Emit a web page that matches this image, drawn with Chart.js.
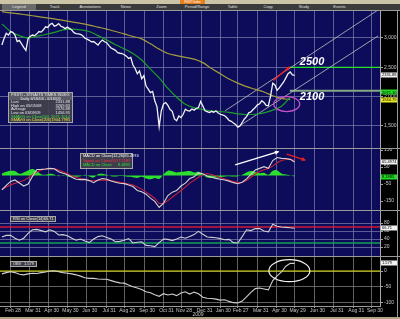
<!DOCTYPE html>
<html>
<head>
<meta charset="utf-8">
<script src="https://cdn.jsdelivr.net/npm/chart.js@4.4.1/dist/chart.umd.min.js"></script>
<style>
  body { margin: 0; width: 400px; height: 319px; background: #aca586; position: relative; overflow: hidden; font-family: "Liberation Sans", Arial, sans-serif; }
  canvas { position: absolute; left: 0; }
  #titlebar { position: absolute; left: 0; top: 0; width: 400px; height: 4px; background: #cbc4a6; }
  #titlebar .tag { position: absolute; left: 180px; top: 0; width: 25px; height: 4px; background: #e8801c; color: #fff; font-size: 3px; line-height: 4px; text-align: center; }
  #menubar { position: absolute; left: 0; top: 4px; width: 400px; height: 6px; background: #3b3b3b; }
  #menubar span { position: absolute; top: 0; width: 34px; text-align: center; color: #e0e0e0; font-size: 4px; line-height: 6px; }
  #menubar span.on { background: #6a6a6a; }
  .legend { position: absolute; background: rgba(66, 66, 78, 0.93); border: 1px solid #a8a8a8; font-size: 4px; line-height: 3.6px; color: #e8e8e8; }
  .legend .row { display: flex; justify-content: space-between; padding: 0 2px; white-space: nowrap; }
  .legend .head { justify-content: center; background: #5a5a66; }
</style>
</head>
<body>
<div id="titlebar"><div class="tag">FSSTI Index</div></div>
<div id="menubar"></div>
<canvas id="priceChart" width="400" height="138" style="top:10px"></canvas>
<canvas id="macdChart" width="400" height="62" style="top:148px"></canvas>
<canvas id="rsiChart" width="400" height="46" style="top:210px"></canvas>
<canvas id="obvChart" width="400" height="61" style="top:256px"></canvas>
<div id="priceLegend" class="legend" style="left:8px; top:92px; width:63px;"></div>
<div id="macdLegend" class="legend" style="left:80px; top:153px; width:51px; line-height:4.6px;"></div>
<div id="rsiLegend" class="legend" style="left:10px; top:216px; width:44px; line-height:4.4px;"></div>
<div id="obvLegend" class="legend" style="left:10px; top:261px; width:25px; line-height:4.4px;"></div>
<script>
const menuItems = ["Legend", "Track", "Annotations", "News", "Zoom", "Period/Range", "Table", "Copy", "Study", "Events"];

// month-end ticks, in weeks from 15 Feb 2008
const monthTicks = [1.86, 6.43, 10.71, 15.0, 19.43, 23.86, 28.0, 32.57, 37.0, 41.0, 45.71, 50.0, 54.0, 58.57, 62.86, 67.0, 71.57, 76.0, 80.43, 84.71];
const monthLabels = ["Feb 28", "Mar 31", "Apr 30", "May 30", "Jun 30", "Jul 31", "Aug 29", "Sep 30", "Oct 31", "Nov 28", "Dec 31", "Jan 30", "Feb 27", "Mar 31", "Apr 30", "May 29", "Jun 30", "Jul 31", "Aug 31", "Sep 30"];

// closes twice a week
const price = [2880, 2990, 3080, 3050, 3110, 3095, 3050, 2940, 2960, 2900, 2840, 2790, 2990, 3030, 3050, 3040, 3070, 3110, 3100, 3140,
	3190, 3180, 3230, 3250, 3200, 3215, 3245, 3200, 3185, 3160, 3185, 3160, 3135, 3090, 3075, 3070, 3060, 3040, 2995, 2980,
	2960, 2935, 2940, 2910, 2880, 2930, 2965, 2935, 2920, 2870, 2830, 2810, 2790, 2750, 2740, 2735, 2715, 2690, 2650, 2670,
	2540, 2480, 2390, 2440, 2305, 2360, 2180, 2130, 2070, 2090, 1930, 1830, 1490, 1760, 1875, 1900, 1850, 1780, 1750, 1620,
	1590, 1670, 1645, 1700, 1785, 1760, 1755, 1790, 1770, 1800, 1815, 1920, 1840, 1760, 1745, 1730, 1750, 1735, 1760, 1720,
	1700, 1690, 1675, 1640, 1595, 1580, 1550, 1525, 1480, 1500, 1560, 1620, 1660, 1725, 1740, 1780, 1815, 1860, 1880, 1930,
	1900, 1850, 1845, 2010, 2230, 2200, 2110, 2150, 2200, 2250, 2320, 2390, 2420, 2370, 2365];
// moving averages, every 2 weeks
const sma50 = [3240, 3110, 3040, 3000, 3030, 3060, 3095, 3138, 3150, 3138, 3110, 3040, 2965, 2885, 2815, 2735, 2625, 2470, 2320, 2140, 1990, 1870, 1810, 1780, 1755, 1745, 1732, 1708, 1692, 1700, 1725, 1770, 1835, 1990];
const sma200 = [3448, 3428, 3410, 3390, 3368, 3346, 3325, 3300, 3275, 3250, 3220, 3185, 3150, 3110, 3070, 3025, 2985, 2900, 2810, 2735, 2700, 2670, 2640, 2580, 2480, 2390, 2300, 2230, 2170, 2125, 2080, 2015, 1972, 1950];

// weekly studies
const macd = [-85, -58, -35, -26, -44, -62, -50, -5, 35, 36, 38, 42, 40, 22, 13, 5, -10, -22, -24, -23, -30, -42, -27, -18, -22, -32, -40, -46, -48, -56, -65, -88, -95, -110, -133, -152, -188, -162, -118, -98, -88, -62, -45, -18, -8, 15, 10, -3, -10, -17, -22, -26, -33, -42, -48, -40, -20, 6, 32, 42, 52, 42, 88, 106, 101, 100, 95, 80];
const signal = [-82, -68, -55, -46, -38, -30, -15, 5, 20, 32, 38, 40, 40, 32, 22, 10, -3, -12, -18, -24, -28, -31, -29, -26, -27, -30, -35, -40, -45, -50, -56, -68, -80, -98, -115, -135, -165, -165, -148, -128, -108, -88, -68, -45, -28, -10, 5, 12, 6, -3, -12, -20, -28, -36, -42, -40, -30, -10, 10, 24, 34, 42, 55, 75, 88, 94, 95, 88];
const histogram = [12, 22, 28, 26, 10, 18, 30, 38, 25, 8, 4, 10, 6, -4, 3, -6, -10, -8, -5, 4, -6, -12, 8, 10, 4, -4, -6, -3, -4, -8, -10, -14, -8, -18, -22, -14, -20, 6, 28, 25, 18, 22, 24, 26, 18, 22, 6, -12, -14, -12, -10, -6, -4, -6, -5, 4, 18, 26, 20, 14, 16, 4, 28, 30, 12, 6, 2, -6];
const rsi = [45, 49, 49, 42, 37, 42, 54, 63, 64, 61, 58, 63, 59, 50, 51, 48, 42, 37, 40, 35, 31, 40, 46, 48, 44, 40, 33, 34, 37, 41, 30, 32, 33, 24, 23, 21, 31, 40, 39, 36, 40, 45, 42, 46, 51, 59, 52, 45, 44, 43, 41, 38, 39, 31, 30, 46, 63, 61, 66, 66, 60, 58, 77, 72, 70, 69, 68, 67];
const obv = [-9, -5, -2, -5, -10, -12, -9, -7, -8, -5, -3, 0, 1, -2, -5, -7, -9, -12, -16, -21, -23, -23, -25, -26, -26, -30, -34, -37, -38, -44, -49, -53, -58, -65, -68, -74, -79, -71, -75, -72, -77, -69, -65, -72, -66, -71, -82, -85, -86, -88, -91, -90, -95, -99, -100, -94, -81, -67, -55, -53, -56, -59, -30, -15, -3, 15, 24, 24];

const priceTicks = [1500, 2000, 2500, 3000];
const macdTicks = [150, 100, 50, 0, -50, -100, -150, -200];
const rsiTicks = [80, 60, 40, 20];
const obvTicks = [0, -50, -100];
const rsiBands = [70, 30];
const targetLevels = [2500, 2100];
const levelStart = 65.9;
const upperChannel = [{ x: 51.1, y: 1760 }, { x: 86.1, y: 3477 }];
const lowerChannel = [{ x: 54.0, y: 1483 }, { x: 86.1, y: 3034 }];
const priceArrow = [{ x: 62.1, y: 2276 }, { x: 65.8, y: 2505 }];
const crossCircle = { x: 65.2, y: 1874 };
const macdUpArrow = [{ x: 53.4, y: 62 }, { x: 63.3, y: 140 }];
const macdDownArrow = [{ x: 65.2, y: 126 }, { x: 69.4, y: 91 }];
const obvCircle = { x: 65.8, y: 1 };

const priceLegend = [["Last", "2331.88"], ["High on 05/05/08", "3269.83"], ["Average", "2376.88"], ["Low on 03/09/09", "1456.95"], ["SMAVG on Close(50)", "2071.1014"], ["SMAVG on Close(200)", "1944.7995"]];
const macdLegend = [["MACD on Close(12,26)", "65.4974"], ["Signal on Close(9)", "57.5189"], ["MACD on Close", "8.1885"]];

const X_MIN = -0.43;
const X_MAX = 86.55;
const navy = "#0c0c5a";
const gridBlue = "rgba(120, 120, 170, 0.75)";
const gridGray = "rgba(120, 120, 120, 0.8)";
const axisText = "#c8c8c8";

Chart.defaults.font.family = '"Liberation Sans", Arial, sans-serif';
Chart.defaults.animation = false;
Chart.defaults.elements.point.radius = 0;

// html bits
const menu = document.getElementById("menubar");
menuItems.forEach((name, i) => {
	const s = document.createElement("span");
	s.textContent = name;
	s.style.left = 2 + i * 35.6 + "px";
	if (i === 0) s.className = "on";
	menu.appendChild(s);
});

function fillLegend(id, head, rows, colors) {
	const el = document.getElementById(id);
	head.forEach((h) => {
		el.insertAdjacentHTML("beforeend", `<div class="row head">${h}</div>`);
	});
	rows.forEach((r, i) => {
		const c = colors[i] || "#e8e8e8";
		el.insertAdjacentHTML("beforeend", `<div class="row" style="color:${c}"><span>${r[0]}</span><span>${r[1]}</span></div>`);
	});
}
fillLegend("priceLegend", ["FSSTI - STRAITS TIMES INDEX", "Daily 6/16/04 - 6/16/09"], priceLegend, ["", "", "", "", "#3ce03c", "#e8e040"]);
fillLegend("macdLegend", [], macdLegend, ["#ffffff", "#ff3040", "#30e030"]);
fillLegend("rsiLegend", [], [["RSI on Close(14)", "66.71"]], []);
fillLegend("obvLegend", [], [["OBV", "1.579"]], []);

const series = (arr, step) => arr.map((v, i) => ({ x: i * step, y: v }));
const flat = (v) => [{ x: X_MIN, y: v }, { x: X_MAX, y: v }];

const panelBg = {
	id: "panelBg",
	beforeDraw(chart, args, opts) {
		const { ctx, chartArea: a, width, height } = chart;
		ctx.save();
		ctx.fillStyle = "#000";
		ctx.fillRect(0, 0, width, height);
		ctx.fillStyle = opts.color || navy;
		ctx.fillRect(a.left, a.top, a.right - a.left, a.bottom - a.top);
		ctx.restore();
	},
	afterDraw(chart, args, opts) {
		const { ctx, chartArea: a, width } = chart;
		ctx.save();
		ctx.strokeStyle = "#9a9a9a";
		ctx.lineWidth = 1;
		ctx.beginPath();
		ctx.moveTo(0, a.top + 0.5);
		ctx.lineTo(width, a.top + 0.5);
		ctx.moveTo(width - 2.5, 0);
		ctx.lineTo(width - 2.5, chart.height);
		ctx.stroke();
		ctx.restore();
	},
};
Chart.register(panelBg);

function xAxis(showLabels, gridColor) {
	return {
		type: "linear",
		min: X_MIN,
		max: X_MAX,
		afterBuildTicks: (axis) => {
			axis.ticks = monthTicks.map((v) => ({ value: v }));
		},
		afterFit: (axis) => {
			axis.height = showLabels ? 11 : 0;
			axis.paddingLeft = 0;
			axis.paddingRight = 0;
		},
		grid: { color: gridColor, drawTicks: showLabels, tickLength: 2, tickColor: "#9a9a9a" },
		border: { display: showLabels, color: "#9a9a9a" },
		ticks: {
			display: showLabels,
			autoSkip: false,
			maxRotation: 0,
			padding: 0,
			labelOffset: 3,
			color: axisText,
			font: { size: 5 },
			callback: (v, i) => monthLabels[i],
		},
	};
}

function yAxis(min, max, tickVals, gridColorFn) {
	return {
		position: "right",
		min: min,
		max: max,
		afterBuildTicks: (axis) => {
			axis.ticks = tickVals.map((v) => ({ value: v }));
		},
		afterFit: (axis) => {
			axis.width = 20;
			axis.paddingTop = 0;
			axis.paddingBottom = 0;
		},
		grid: { color: gridColorFn, drawTicks: true, tickLength: 3, tickColor: "#a0a0a0" },
		border: { color: "#a8a8a8" },
		ticks: { color: axisText, font: { size: 5 }, padding: 1 },
	};
}

function baseOptions(bg, x, y) {
	return {
		responsive: false,
		devicePixelRatio: 1,
		layout: { padding: 0 },
		plugins: { legend: { display: false }, tooltip: { enabled: false }, panelBg: { color: bg } },
		scales: { x: x, y: y },
	};
}

function line(data, color, width, extra = {}) {
	return Object.assign({ data: data, borderColor: color, borderWidth: width, pointRadius: 0, fill: false, tension: 0 }, extra);
}

function arrow(ctx, x1, y1, x2, y2, color, w) {
	ctx.strokeStyle = color;
	ctx.fillStyle = color;
	ctx.lineWidth = w;
	ctx.beginPath();
	ctx.moveTo(x1, y1);
	ctx.lineTo(x2, y2);
	ctx.stroke();
	const ang = Math.atan2(y2 - y1, x2 - x1);
	const h = 4;
	ctx.beginPath();
	ctx.moveTo(x2 + Math.cos(ang), y2 + Math.sin(ang));
	ctx.lineTo(x2 - h * Math.cos(ang - 0.55), y2 - h * Math.sin(ang - 0.55));
	ctx.lineTo(x2 - h * Math.cos(ang + 0.55), y2 - h * Math.sin(ang + 0.55));
	ctx.closePath();
	ctx.fill();
}

function px(chart, p) {
	return [chart.scales.x.getPixelForValue(p.x), chart.scales.y.getPixelForValue(p.y)];
}

function valueBox(chart, value, bg, fg, text) {
	const ctx = chart.ctx;
	const y = chart.scales.y.getPixelForValue(value);
	const x = chart.chartArea.right + 1;
	ctx.save();
	ctx.fillStyle = bg;
	ctx.fillRect(x, Math.round(y) - 2.5, 16, 5);
	ctx.fillStyle = fg;
	ctx.font = '4px "Liberation Sans"';
	ctx.textBaseline = "middle";
	ctx.fillText(text, x + 1, y);
	ctx.restore();
}

// price panel
new Chart(document.getElementById("priceChart"), {
	type: "line",
	data: {
		datasets: [
			line(series(price, 0.5), "#f2f2f2", 1.3),
			line(series(sma50, 2), "#1c9e2c", 1.2, { tension: 0.3 }),
			line(series(sma200, 2), "#a39c3c", 1.2, { tension: 0.3 }),
			line(upperChannel, "#c4c4c4", 0.8),
			line(lowerChannel, "#c4c4c4", 0.8),
			line([{ x: levelStart, y: targetLevels[0] }, { x: X_MAX, y: targetLevels[0] }], "#2ae02a", 1.3),
			line([{ x: levelStart, y: targetLevels[1] }, { x: X_MAX, y: targetLevels[1] }], "#86a886", 2),
		],
	},
	options: baseOptions(navy, xAxis(false, gridBlue), yAxis(1125, 3477, priceTicks, gridBlue)),
	plugins: [
		{
			id: "priceMarks",
			afterDatasetsDraw(chart) {
				const ctx = chart.ctx;
				ctx.save();
				const [x1, y1] = px(chart, priceArrow[0]);
				const [x2, y2] = px(chart, priceArrow[1]);
				arrow(ctx, x1, y1, x2, y2, "#e82020", 1.5);
				const [cx, cy] = px(chart, crossCircle);
				ctx.strokeStyle = "#c850c8";
				ctx.lineWidth = 1.3;
				ctx.beginPath();
				ctx.ellipse(cx, cy, 13, 7.5, 0, 0, Math.PI * 2);
				ctx.stroke();
				ctx.fillStyle = "#ffffff";
				ctx.font = 'italic bold 11px "Liberation Sans"';
				ctx.textBaseline = "middle";
				targetLevels.forEach((lv, i) => {
					const tx = chart.scales.x.getPixelForValue(levelStart + 2.3);
					const ty = chart.scales.y.getPixelForValue(lv) + (i === 0 ? -5 : 6);
					ctx.fillText(String(lv), tx, ty);
				});
				ctx.restore();
			},
			afterDraw(chart) {
				valueBox(chart, price[price.length - 1], "#f0f0f0", "#000", priceLegend[0][1]);
				valueBox(chart, 2071, "#22dd22", "#000", "2071.10");
				valueBox(chart, 1944, "#e8e820", "#000", "1944.79");
			},
		},
	],
});

// MACD panel
new Chart(document.getElementById("macdChart"), {
	type: "line",
	data: {
		datasets: [
			line(series(macd, 1), "#d4d4d4", 1.1),
			line(series(signal, 1), "#c8203a", 1.1),
			line(series(histogram, 1), "rgba(0,0,0,0)", 0, { fill: "origin", backgroundColor: "#2ee02e", tension: 0.4 }),
		],
	},
	options: baseOptions(
		navy,
		xAxis(false, gridBlue),
		yAxis(-202.9, 161.8, macdTicks, (c) => (c.tick.value === 0 ? "#b8b8b8" : c.tick.value % 100 === 0 ? gridBlue : "rgba(0,0,0,0)")),
	),
	plugins: [
		{
			id: "macdMarks",
			afterDatasetsDraw(chart) {
				const ctx = chart.ctx;
				ctx.save();
				let [x1, y1] = px(chart, macdUpArrow[0]);
				let [x2, y2] = px(chart, macdUpArrow[1]);
				arrow(ctx, x1, y1, x2, y2, "#ffffff", 1.3);
				[x1, y1] = px(chart, macdDownArrow[0]);
				[x2, y2] = px(chart, macdDownArrow[1]);
				arrow(ctx, x1, y1, x2, y2, "#e82020", 1.3);
				ctx.restore();
			},
			afterDraw(chart) {
				valueBox(chart, macd[macd.length - 1], "#f0f0f0", "#000", macdLegend[0][1]);
				valueBox(chart, histogram[histogram.length - 1], "#22dd22", "#000", macdLegend[2][1]);
			},
		},
	],
});

// RSI panel
new Chart(document.getElementById("rsiChart"), {
	type: "line",
	data: {
		datasets: [
			line(series(rsi, 1), "#cfcfcf", 1.1),
			line(flat(rsiBands[0]), "#d01834", 1.5),
			line(flat(rsiBands[1]), "#139c56", 1.5),
		],
	},
	options: baseOptions(navy, xAxis(false, gridBlue), yAxis(-2.5, 112.5, rsiTicks, gridBlue)),
	plugins: [
		{
			id: "rsiMarks",
			afterDraw(chart) {
				valueBox(chart, rsi[rsi.length - 1], "#f0f0f0", "#000", "66.71");
			},
		},
	],
});

// OBV panel
new Chart(document.getElementById("obvChart"), {
	type: "line",
	data: {
		datasets: [
			line(series(obv, 1), "#d0d0d0", 1.1),
			line(flat(0), "#e0e000", 1.2),
		],
	},
	options: baseOptions("#000000", xAxis(true, gridGray), yAxis(-109.4, 46.9, obvTicks, gridGray)),
	plugins: [
		{
			id: "obvMarks",
			afterDatasetsDraw(chart) {
				const ctx = chart.ctx;
				const [cx, cy] = px(chart, obvCircle);
				ctx.save();
				ctx.strokeStyle = "#f4f4f4";
				ctx.lineWidth = 1.2;
				ctx.beginPath();
				ctx.ellipse(cx, cy, 20.5, 11, 0, 0, Math.PI * 2);
				ctx.stroke();
				ctx.restore();
			},
			afterDraw(chart) {
				valueBox(chart, obv[obv.length - 1], "#f0f0f0", "#000", "1.579");
				const ctx = chart.ctx;
				ctx.save();
				ctx.fillStyle = axisText;
				ctx.font = '5px "Liberation Sans"';
				ctx.textAlign = "center";
				ctx.fillText("2009", chart.scales.x.getPixelForValue(44.9), chart.height - 1);
				ctx.restore();
			},
		},
	],
});
</script>
</body>
</html>
